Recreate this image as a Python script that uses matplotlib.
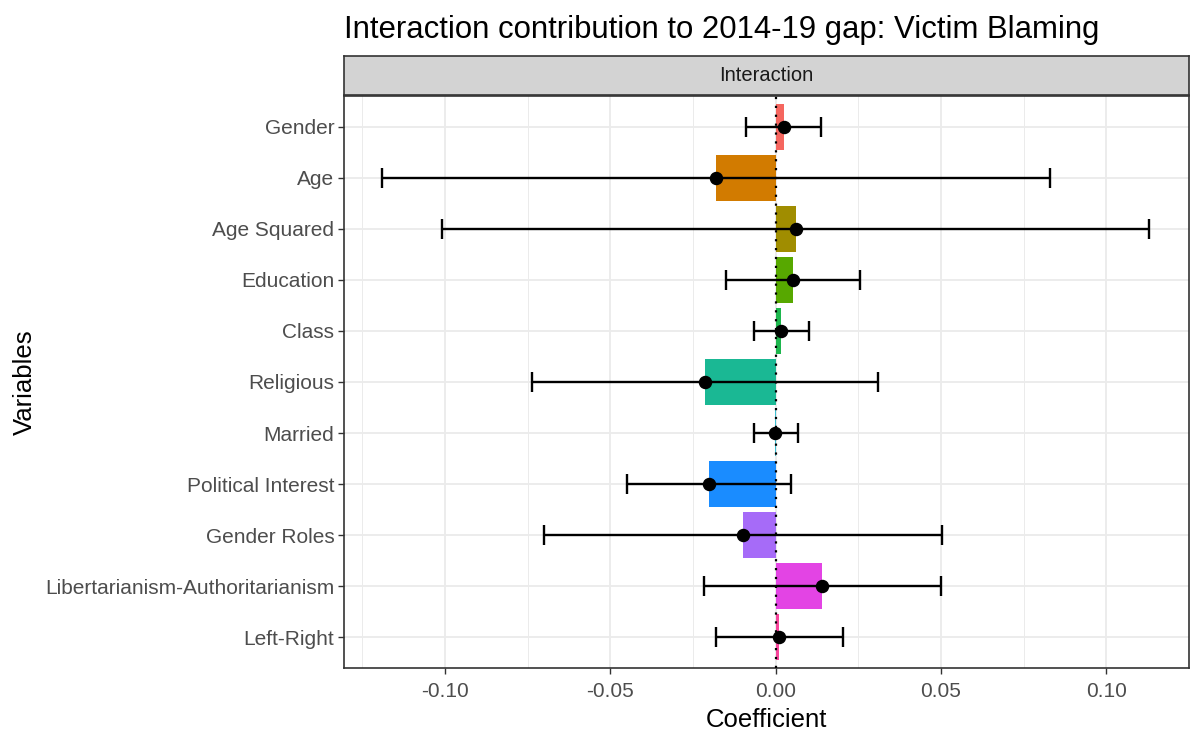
import matplotlib
matplotlib.use("Agg")
import matplotlib.pyplot as plt
import numpy as np

plt.rcParams['font.family'] = ['Liberation Sans', 'DejaVu Sans']

variables = ["Gender", "Age", "Age Squared", "Education", "Class", "Religious",
             "Married", "Political Interest", "Gender Roles",
             "Libertarianism-Authoritarianism", "Left-Right"]
coef = [0.0024, -0.0180, 0.0060, 0.0051, 0.0016, -0.0214,
        -0.0001, -0.0202, -0.0099, 0.0140, 0.0011]
ci_low = [-0.0090, -0.1190, -0.1009, -0.0150, -0.0067, -0.0738,
          -0.0067, -0.0450, -0.0701, -0.0217, -0.0180]
ci_high = [0.0138, 0.0831, 0.1128, 0.0254, 0.0101, 0.0309,
           0.0066, 0.0045, 0.0502, 0.0500, 0.0204]
colors = ["#F5665F", "#D27B00", "#A08D00", "#57A800", "#1DB64D", "#1AB894",
          "#3EBFD2", "#1A8CFF", "#A66BF8", "#E344E4", "#F7449B"]
xticks = [-0.10, -0.05, 0.00, 0.05, 0.10]
xtick_labels = ["-0.10", "-0.05", "0.00", "0.05", "0.10"]

fig = plt.figure(figsize=(11.9, 7.35), dpi=100)
ax = fig.add_axes([344/1190, 1 - 668/735, (1189 - 344)/1190, (668 - 96)/735])

y = np.arange(len(variables))
coef = np.array(coef)
lo = np.array(ci_low)
hi = np.array(ci_high)

ax.barh(y, coef, height=0.9, color=colors, zorder=2)
ax.axvline(0, color="black", linestyle=(0, (1, 3)), lw=1.6, zorder=3)
ax.errorbar(coef, y, xerr=[coef - lo, hi - coef], fmt="none", ecolor="black",
            elinewidth=1.7, capsize=7, capthick=1.7, zorder=4)
ax.scatter(coef, y, s=75, color="black", zorder=5)

span = hi.max() - lo.min()
ax.set_xlim(lo.min() - 0.05*span, hi.max() + 0.05*span)
ax.set_ylim(len(variables) - 1 + 0.6, -0.6)

ax.set_xticks(xticks)
ax.set_xticklabels(xtick_labels)
ax.set_xticks(np.arange(-0.125, 0.126, 0.05), minor=True)
ax.set_yticks(y)
ax.set_yticklabels(variables)
ax.tick_params(axis="both", colors="#333333", labelcolor="#4D4D4D", labelsize=15,
               length=4, width=1, pad=3)
ax.tick_params(axis="x", pad=6)
ax.tick_params(axis="x", which="minor", length=0)
ax.grid(which="major", color="#EBEBEB", lw=1.3, zorder=0)
ax.grid(which="minor", axis="x", color="#EBEBEB", lw=0.7, zorder=0)
ax.set_axisbelow(True)
for s in ax.spines.values():
    s.set_color("#333333")
    s.set_linewidth(1.2)

ax.set_xlabel("Coefficient", fontsize=18.5, labelpad=5)
ax.set_ylabel("Variables", fontsize=18.5, labelpad=6)

# facet strip
strip = fig.add_axes([344/1190, 1 - 95/735, (1189 - 344)/1190, 39/735])
strip.set_facecolor("#D3D3D3")
strip.set_xticks([])
strip.set_yticks([])
for s in strip.spines.values():
    s.set_color("#333333")
    s.set_linewidth(1.2)
strip.text(0.5, 0.5, "Interaction", ha="center", va="center", fontsize=14.5, color="#1A1A1A")

fig.text(344/1190, 1 - 30/735, "Interaction contribution to 2014-19 gap: Victim Blaming",
         ha="left", va="center", fontsize=22.4, color="black")

fig.savefig("out.png", dpi=100)
